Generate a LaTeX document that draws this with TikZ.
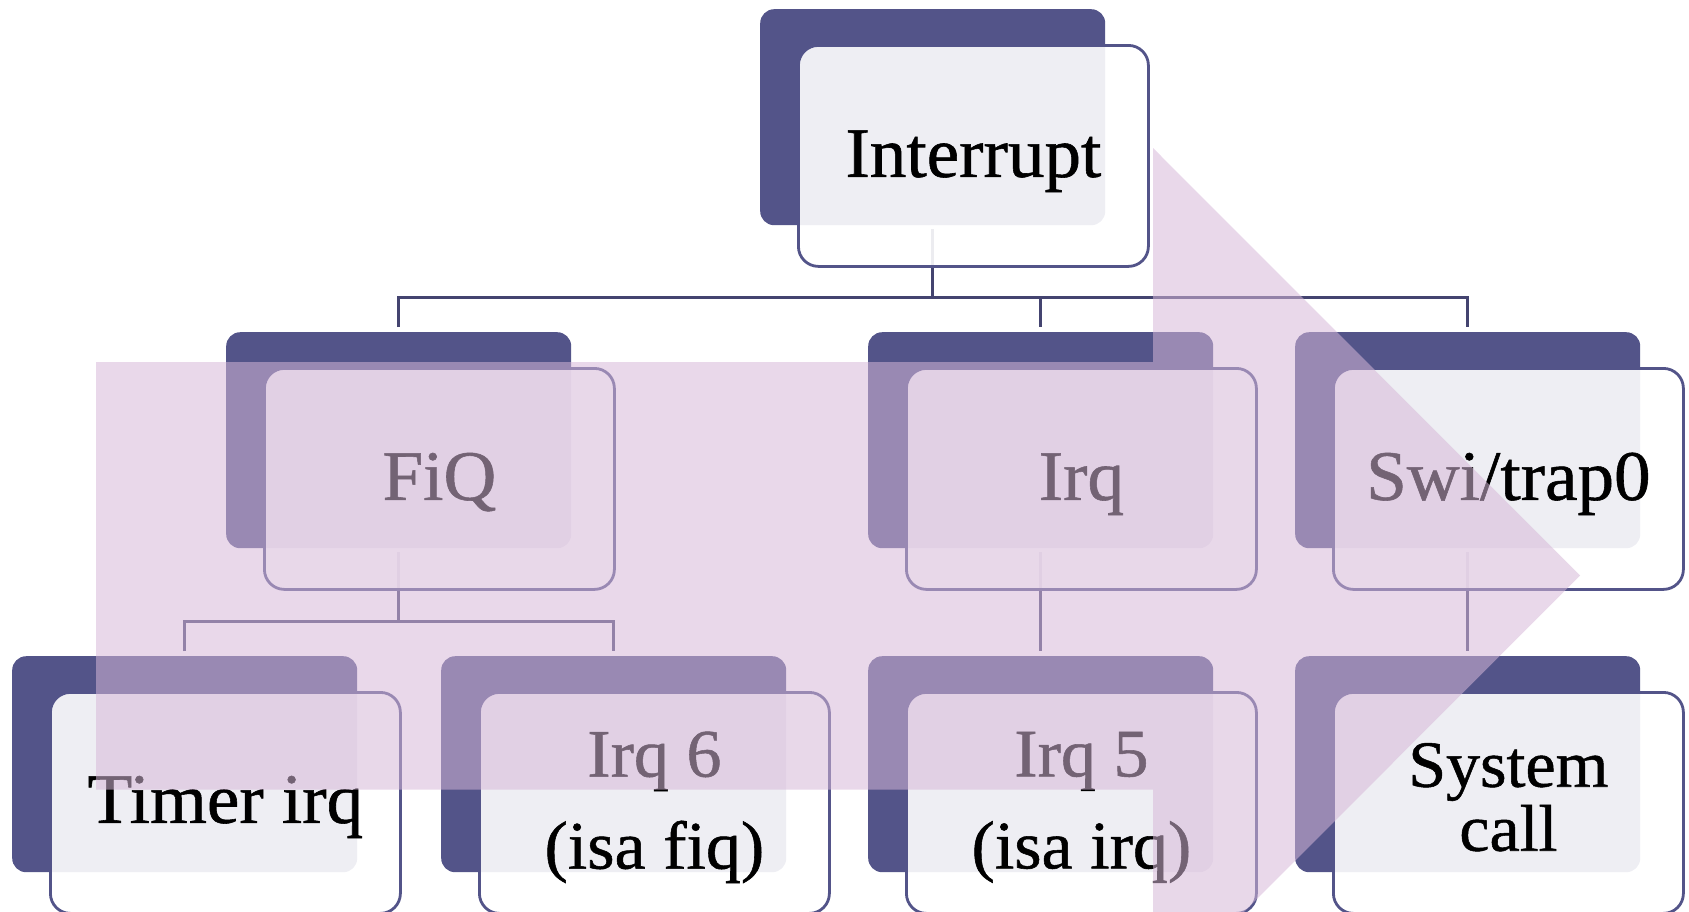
\documentclass[tikz,border=0pt]{standalone}
\usepackage{fontspec}
\setmainfont{Liberation Serif}[FakeBold=0.8, FakeStretch=1.03]
\pgfdeclarelayer{links}
\pgfsetlayers{links,main}

\definecolor{navy}{RGB}{83,84,137}
\definecolor{linkc}{RGB}{68,68,112}
\definecolor{veil}{RGB}{214,183,216}

\tikzset{
  backbox/.style={draw=none, fill=navy, rounded corners=14pt,
    minimum width=345pt, minimum height=216pt, anchor=north west, inner sep=0pt},
  frontbox/.style={draw=navy, line width=2.8pt, fill=white, fill opacity=0.9,
    rounded corners=20pt, minimum width=350pt, minimum height=221pt,
    anchor=north west, inner sep=0pt},
  conn/.style={draw=linkc, line width=3pt},
  lbl/.style={font=\fontsize{71}{92}\selectfont, text=black, inner sep=0pt},
  twolbl/.style={font=\fontsize{68}{92}\selectfont, text=black, inner sep=0pt, align=center},
  smalllbl/.style={font=\fontsize{66}{64}\selectfont, text=black, inner sep=0pt, align=center},
  veilarrow/.style={fill=veil, fill opacity=0.54},
}

\begin{document}
\begin{tikzpicture}[x=1pt, y=-1pt]
\useasboundingbox (0,0) rectangle (1689,911);
\clip (0,0) rectangle (1689,911);

% shadow blocks
\node[backbox] (intB) at (760,9)   {};
\node[backbox] (fiqB) at (226,332) {};
\node[backbox] (irqB) at (868,332) {};
\node[backbox] (swiB) at (1295,332) {};
\node[backbox] (timB) at (12,656)  {};
\node[backbox] (i6B)  at (441,656) {};
\node[backbox] (i5B)  at (868,656) {};
\node[backbox] (scB)  at (1295,656) {};

% framed cards
\foreach \n in {int,fiq,irq,swi,tim,i6,i5,sc}
  \node[frontbox] (\n F) at ([xshift=37pt,yshift=-35pt]\n B.north west) {};

% labels
\node[lbl, anchor=base] (intT) at ([yshift=-21pt]intF.center) {Interrupt};
\node[lbl, anchor=base] (fiqT) at ([yshift=-21pt]fiqF.center) {FiQ};
\node[lbl, anchor=base] (irqT) at ([yshift=-21pt]irqF.center) {Irq};
\node[lbl, anchor=base] (swiT) at ([yshift=-21pt]swiF.center) {Swi/trap0};
\node[lbl, anchor=base] (timT) at ([yshift=-20pt]timF.center) {Timer irq};
\node[twolbl] (i6T) at ([yshift=-4.4pt]i6F.center) {Irq 6\\(isa fiq)};
\node[twolbl] (i5T) at ([yshift=-4.4pt]i5F.center) {Irq 5\\(isa irq)};
\node[smalllbl] (scT) at ([yshift=5.7pt]scF.center) {System\\call};

% tree connectors, kept beneath the cards
\coordinate (bus1) at (0,297);
\coordinate (bus2) at (0,621.5);
\begin{pgfonlayer}{links}
\draw[conn] ([yshift=-4pt]intB.south) -- (intB.south |- bus1);
\draw[conn] ([yshift=5pt]fiqB.north) -- (fiqB.north |- bus1)
            -- (swiB.north |- bus1) -- ([yshift=5pt]swiB.north);
\draw[conn] (irqB.north |- bus1) -- ([yshift=5pt]irqB.north);
\draw[conn] ([yshift=-4pt]fiqB.south) -- (fiqB.south |- bus2);
\draw[conn] ([yshift=5pt]timB.north) -- (timB.north |- bus2)
            -- (i6B.north |- bus2) -- ([yshift=5pt]i6B.north);
\draw[conn] ([yshift=-4pt]irqB.south) -- ([yshift=5pt]i5B.north);
\draw[conn] ([yshift=-4pt]swiB.south) -- ([yshift=5pt]scB.north);
\end{pgfonlayer}

% translucent block arrow laid over the tree
\fill[veilarrow] (96,362) -- (1153,362) -- (1153,148) -- (1580,575.5)
  -- (1153,1003) -- (1153,789.5) -- (96,789.5) -- cycle;
\end{tikzpicture}
\end{document}
